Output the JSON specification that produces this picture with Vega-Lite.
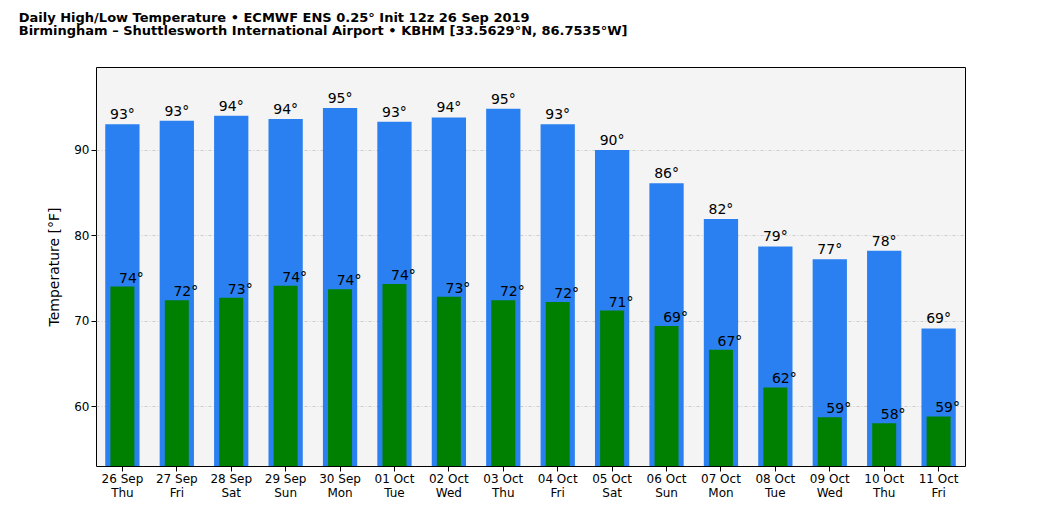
{
  "$schema": "https://vega.github.io/schema/vega-lite/v6.json",
  "width": 869,
  "height": 399,
  "autosize": "none",
  "padding": {"left": 96, "top": 67, "right": 75, "bottom": 50},
  "background": "white",
  "config": {
    "view": {"fill": "#f4f4f4", "stroke": "black", "strokeWidth": 1},
    "font": "DejaVu Sans"
  },
  "title": {
    "text": "Daily High/Low Temperature • ECMWF ENS 0.25° Init 12z 26 Sep 2019",
    "subtitle": "Birmingham – Shuttlesworth International Airport • KBHM [33.5629°N, 86.7535°W]",
    "anchor": "start",
    "frame": "bounds",
    "dx": -29,
    "offset": 29,
    "fontSize": 13,
    "fontWeight": "bold",
    "subtitleFontSize": 13,
    "subtitleFontWeight": "bold",
    "subtitleColor": "black",
    "subtitlePadding": 0,
    "color": "black"
  },
  "data": {
    "values": [
      {"day": "26 Sep|Thu", "high": 93.0, "low": 74.0},
      {"day": "27 Sep|Fri", "high": 93.4, "low": 72.4},
      {"day": "28 Sep|Sat", "high": 94.0, "low": 72.7},
      {"day": "29 Sep|Sun", "high": 93.6, "low": 74.1},
      {"day": "30 Sep|Mon", "high": 94.9, "low": 73.7},
      {"day": "01 Oct|Tue", "high": 93.3, "low": 74.3},
      {"day": "02 Oct|Wed", "high": 93.8, "low": 72.8},
      {"day": "03 Oct|Thu", "high": 94.8, "low": 72.4},
      {"day": "04 Oct|Fri", "high": 93.0, "low": 72.2},
      {"day": "05 Oct|Sat", "high": 90.0, "low": 71.2},
      {"day": "06 Oct|Sun", "high": 86.1, "low": 69.4},
      {"day": "07 Oct|Mon", "high": 81.9, "low": 66.6},
      {"day": "08 Oct|Tue", "high": 78.7, "low": 62.2},
      {"day": "09 Oct|Wed", "high": 77.2, "low": 58.7},
      {"day": "10 Oct|Thu", "high": 78.2, "low": 58.0},
      {"day": "11 Oct|Fri", "high": 69.1, "low": 58.8}
    ]
  },
  "encoding": {
    "x": {
      "field": "day",
      "type": "ordinal",
      "sort": null,
      "title": null,
      "scale": {"paddingInner": 0.37, "paddingOuter": 0.17},
      "axis": {
        "labelExpr": "split(datum.value, '|')",
        "labelAngle": 0,
        "labelFontSize": 12,
        "labelColor": "black",
        "tickColor": "black",
        "domain": false,
        "labelLineHeight": 14
      }
    }
  },
  "layer": [
    {
      "mark": {"type": "bar", "color": "#2a80f0", "clip": true},
      "encoding": {
        "y": {
          "field": "high",
          "type": "quantitative",
          "title": "Temperature [°F]",
          "scale": {"domain": [53, 99.7], "nice": false, "zero": false},
          "axis": {
            "values": [60, 70, 80, 90],
            "grid": true,
            "gridDash": [3, 2, 1, 2],
            "gridColor": "#cccccc",
            "labelFontSize": 12,
            "labelColor": "black",
            "tickColor": "black",
            "domain": false,
            "titleFontSize": 14,
            "titleFontWeight": "normal",
            "titleColor": "black",
            "titlePadding": 12
          }
        },
        "y2": {"datum": 53}
      }
    },
    {
      "mark": {"type": "bar", "color": "#008000", "size": 24, "clip": true},
      "encoding": {
        "y": {"field": "low", "type": "quantitative"},
        "y2": {"datum": 53}
      }
    },
    {
      "transform": [{"calculate": "format(datum.high, '.0f') + '°'", "as": "hlabel"}],
      "mark": {"type": "text", "baseline": "bottom", "dy": -2, "fontSize": 14, "color": "black"},
      "encoding": {
        "y": {"field": "high", "type": "quantitative"},
        "text": {"field": "hlabel"}
      }
    },
    {
      "transform": [{"calculate": "format(datum.low, '.0f') + '°'", "as": "llabel"}],
      "mark": {"type": "text", "baseline": "bottom", "dy": -1, "dx": 9, "fontSize": 14, "color": "black"},
      "encoding": {
        "y": {"field": "low", "type": "quantitative"},
        "text": {"field": "llabel"}
      }
    }
  ]
}
